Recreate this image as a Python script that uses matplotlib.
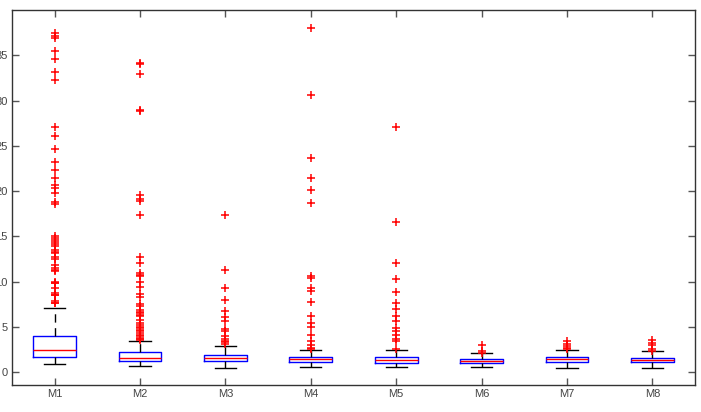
import numpy as np
import matplotlib
matplotlib.use('Agg')
import matplotlib.pyplot as plt

plt.rcParams['font.family'] = ['Liberation Sans', 'DejaVu Sans']

# Box statistics
labels = ['M1', 'M2', 'M3', 'M4', 'M5', 'M6', 'M7', 'M8']
medians = [2.45, 1.60, 1.54, 1.43, 1.36, 1.25, 1.43, 1.39]
q1 = [1.68, 1.30, 1.21, 1.17, 1.06, 1.03, 1.14, 1.17]
q3 = [4.00, 2.22, 1.90, 1.72, 1.65, 1.51, 1.72, 1.61]
whisk_lo = [0.88, 0.66, 0.48, 0.59, 0.62, 0.59, 0.48, 0.51]
whisk_hi = [7.15, 3.49, 2.90, 2.42, 2.42, 2.09, 2.46, 2.31]

fliers_m1 = [37.46, 37.17, 36.87, 35.48, 34.6, 33.16, 32.24, 27.1, 26.07,
             24.6, 23.17, 22.33, 21.4, 20.68, 20.3, 19.83, 18.84, 18.58,
             15.06, 14.8, 14.6, 14.43, 14.2, 13.96, 13.5, 13.3, 13.2, 12.78,
             12.5, 11.86, 11.5, 11.3, 11.2, 10.0, 9.9, 9.84, 9.3, 8.8, 8.56,
             8.5, 7.82, 7.7, 7.64]
fliers_m2 = [34.2, 34.08, 32.98, 28.94, 28.87, 19.57, 19.1, 18.95, 17.37,
             12.78, 12.05, 10.94, 10.76, 10.58, 10.0, 9.4, 8.63, 8.37, 7.57,
             7.27, 6.9, 6.7, 6.54, 6.3, 6.17, 5.8, 5.5, 5.25, 5.0, 4.88, 4.7,
             4.52, 4.33, 4.15, 3.97, 3.8, 3.67, 3.53]
fliers_m3 = [17.39, 11.34, 9.32, 8.03, 6.75, 6.13, 5.65, 4.73, 4.55, 4.0,
             3.7, 3.45, 3.3, 3.1]
fliers_m4 = [38.05, 30.6, 23.63, 21.43, 20.14, 18.74, 10.6, 10.4, 9.32,
             9.02, 7.8, 6.2, 5.47, 5.03, 4.07, 3.45, 2.97, 2.71, 2.53]
fliers_m5 = [27.1, 16.65, 12.07, 10.3, 8.84, 7.67, 7.0, 6.2, 5.65, 4.92,
             4.55, 4.07, 3.63, 3.45, 2.6]
fliers_m6 = [2.97, 2.35, 2.17]
fliers_m7 = [3.45, 3.15, 2.9, 2.71, 2.55]
fliers_m8 = [3.56, 3.26, 2.97, 2.6, 2.35]
fliers = [fliers_m1, fliers_m2, fliers_m3, fliers_m4,
          fliers_m5, fliers_m6, fliers_m7, fliers_m8]

stats = []
for i in range(len(labels)):
    stats.append({'label': labels[i], 'med': medians[i], 'q1': q1[i],
                  'q3': q3[i], 'whislo': whisk_lo[i], 'whishi': whisk_hi[i],
                  'fliers': fliers[i]})

fig = plt.figure(figsize=(7.01, 4.12), dpi=100)
ax = fig.add_axes([12 / 701, 27 / 412, 683 / 701, 375 / 412])

ax.bxp(stats, widths=0.5, showfliers=True,
       boxprops=dict(color='#0000ff', linewidth=1.0),
       medianprops=dict(color='#ff0000', linewidth=1.0),
       whiskerprops=dict(color='black', linewidth=1.0,
                         linestyle=(0, (6, 4))),
       capprops=dict(color='black', linewidth=1.0),
       capwidths=0.25,
       flierprops=dict(marker='+', markeredgecolor='#ff0000',
                       markersize=6, markeredgewidth=1.1,
                       linestyle='none'))

ax.set_xlim(0.5, 8.5)
ax.set_ylim(-1.4, 40)
ax.set_yticks([0, 5, 10, 15, 20, 25, 30, 35])

ax.tick_params(direction='in', length=5, width=1, color='#555555',
               labelsize=8, labelcolor='#444444',
               top=True, right=True, pad=3)
for s in ax.spines.values():
    s.set_color('#333333')
    s.set_linewidth(1)

fig.savefig('out.png', dpi=100)
plt.close(fig)
